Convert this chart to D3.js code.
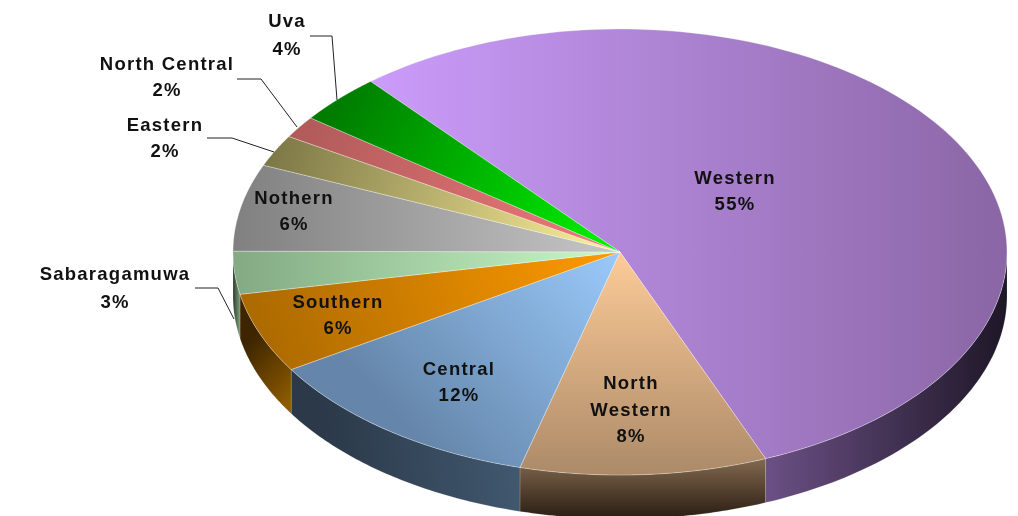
<!DOCTYPE html>
<html>
<head>
<meta charset="utf-8">
<script src="https://cdn.jsdelivr.net/npm/d3@7"></script>
<style>
    html, body { margin: 0; padding: 0; background: #fff; overflow: hidden; }
    svg { display: block; filter: blur(0.45px); }
    text { font-family: "Liberation Sans", Arial, sans-serif; font-weight: bold; font-size: 18.5px; fill: #111; letter-spacing: 1.25px; text-anchor: middle; }
</style>
</head>
<body>
<div id="chart"></div>
<script>
// Values
const regions = ['Western', 'North Western', 'Central', 'Southern', 'Sabaragamuwa', 'Nothern', 'Eastern', 'North Central', 'Uva'];
const percentLabels = [55, 8, 12, 6, 3, 6, 2, 2, 4];
// Share of the circle each slice really takes up as drawn (the 3D view distorts them)
const drawnShares = [55, 10.3, 12, 5.8, 3.1, 6.3, 2.3, 1.6, 3.6];

const width = 1018;
const height = 516;
const defaults = {
    centerX: 620,
    centerY: 252,
    radiusX: 387,
    radiusY: 223,
    depth: 44,
    startAngle: -40.1 * Math.PI / 180,
};

// Gradient of each slice top: [x1, y1, x2, y2, light, dark]
const topFills = [
    [372, 150, 1006, 150, '#cb9cfb', '#8a66a5'],
    [620, 252, 620, 475, '#fdcb98', '#ac8a68'],
    [620, 252, 420, 440, '#9acafb', '#6586aa'],
    [620, 252, 270, 370, '#ff9a00', '#ac6a00'],
    [620, 260, 233, 260, '#c9f9c9', '#83aa83'],
    [620, 220, 233, 220, '#c6c6c6', '#808080'],
    [620, 252, 270, 150, '#fff49c', '#7c7746'],
    [620, 252, 295, 128, '#f07a7a', '#b05a5a'],
    [620, 252, 340, 100, '#00f400', '#007c00'],
];

// Gradient of each visible side wall
const wallFills = {
    0: [765, 470, 1006, 470, '#6b5085', '#1e1727'],
    1: [620, 458, 620, 516, '#836a50', '#2d2015'],
    2: [520, 480, 330, 500, '#41586f', '#2b3949'],
    3: [292, 400, 240, 350, '#8e5b00', '#3d2500'],
    4: [240, 300, 233, 300, '#7f9f7f', '#2c3c2c'],
};

// Where the text sits: [x, first baseline, line height]
const labelLayout = [
    [735, 184, 26],
    [631, 389, 26.5],
    [459, 375, 26],
    [338, 308, 26],
    [115, 280, 28],
    [294, 204, 26],
    [165, 131, 26],
    [167, 70, 26],
    [287, 27, 28],
];

const labelLines = {
    'North Western': ['North', 'Western'],
};

// Leader lines for the outside labels
const leaders = [
    [[310, 36], [332, 36], [337, 100]],
    [[237, 79], [261, 79], [297, 127]],
    [[207, 138], [232, 138], [274, 152]],
    [[195, 288], [218, 288], [234, 319]],
];

const svg = d3.select('#chart').append('svg')
    .attr('width', width)
    .attr('height', height)
    .attr('viewBox', `0 0 ${width} ${height}`);

const defs = svg.append('defs');

function createGradient(id, f) {
    const g = defs.append('linearGradient')
        .attr('id', id)
        .attr('gradientUnits', 'userSpaceOnUse')
        .attr('x1', f[0]).attr('y1', f[1])
        .attr('x2', f[2]).attr('y2', f[3]);
    g.append('stop').attr('offset', 0).attr('stop-color', f[4]);
    g.append('stop').attr('offset', 1).attr('stop-color', f[5]);
}

topFills.forEach((f, i) => createGradient(`top${i}`, f));
Object.keys(wallFills).forEach(i => createGradient(`wall${i}`, wallFills[i]));

const pie = d3.pie()
    .sort(null)
    .startAngle(defaults.startAngle)
    .endAngle(defaults.startAngle + Math.PI * 2);
const slices = pie(drawnShares);

// Map an angle (clockwise from top) to a point on the squashed rim
function rim(angle, drop = 0) {
    return [
        defaults.centerX + defaults.radiusX * Math.sin(angle),
        defaults.centerY - defaults.radiusY * Math.cos(angle) + drop,
    ];
}

function createWalls() {
    const line = d3.line();
    slices.forEach((s, i) => {
        // Only the front half of the rim can be seen
        const a0 = Math.max(s.startAngle, Math.PI / 2);
        const a1 = Math.min(s.endAngle, Math.PI * 1.5);
        if (a1 <= a0) return;
        const steps = d3.range(0, 61).map(k => a0 + (a1 - a0) * k / 60);
        const outline = steps.map(a => rim(a))
            .concat(steps.slice().reverse().map(a => rim(a, defaults.depth)));
        svg.append('path')
            .attr('d', line(outline) + 'Z')
            .attr('fill', `url(#wall${i})`)
            .attr('stroke', 'rgba(255,255,255,0.25)')
            .attr('stroke-width', 0.6);
    });
}

function createTops() {
    svg.append('g').selectAll('path')
        .data(slices)
        .join('path')
        .attr('d', d => {
            const pts = [[defaults.centerX, defaults.centerY]];
            d3.range(0, 121).forEach(k => {
                pts.push(rim(d.startAngle + (d.endAngle - d.startAngle) * k / 120));
            });
            return d3.line()(pts) + 'Z';
        })
        .attr('fill', (d, i) => `url(#top${i})`)
        .attr('stroke', 'rgba(255,255,255,0.45)')
        .attr('stroke-width', 0.7);
}

function createLeaders() {
    svg.append('g').selectAll('path')
        .data(leaders)
        .join('path')
        .attr('d', d3.line())
        .attr('fill', 'none')
        .attr('stroke', '#222')
        .attr('stroke-width', 1);
}

function createLabels() {
    regions.forEach((name, i) => {
        const [x, y, lineHeight] = labelLayout[i];
        const lines = (labelLines[name] || [name]).concat(`${percentLabels[i]}%`);
        const t = svg.append('text');
        lines.forEach((txt, k) => {
            t.append('tspan')
                .attr('x', x)
                .attr('y', y + k * lineHeight)
                .text(txt);
        });
    });
}

createWalls();
createTops();
createLeaders();
createLabels();
</script>
</body>
</html>
